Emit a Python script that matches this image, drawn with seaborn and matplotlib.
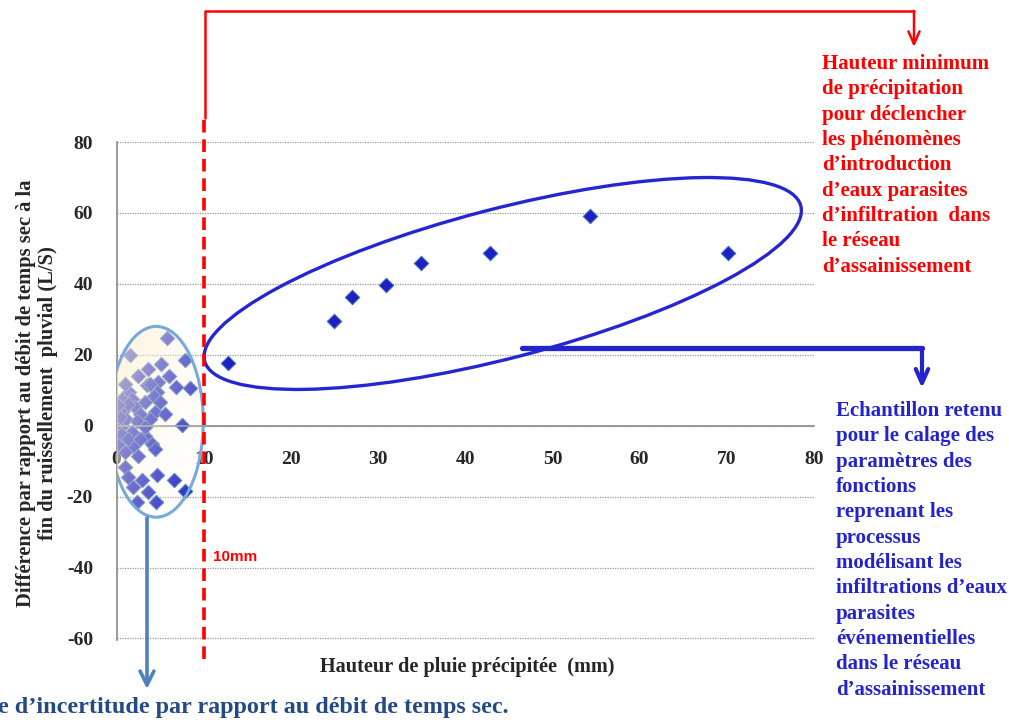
import numpy as np
import matplotlib
matplotlib.use('Agg')
import matplotlib.pyplot as plt
import matplotlib.transforms as mtransforms
from matplotlib.patches import Ellipse, FancyArrowPatch
from matplotlib.lines import Line2D
import seaborn as sns

# points below the 10 mm threshold (uncertainty zone)
zone_x = [5.8, 1.5, 7.9, 5.1, 6.0, 2.5, 8.4, 3.5, 4.8, 1.4, 4.6, 1.8, 3.3, 4.3,
          0.7, 2.1, 4.4, 5.6, 7.5, 0.6, 1.8, 3.3, 0.2, 1.9, 4.1, 4.4, 1.0, 2.5,
          1.0, 4.6, 6.6, 1.3, 2.9, 1.9, 3.6, 7.9, 2.4, 4.5, 0.6, 1.3, 2.7, 1.1,
          2.4, 3.8, 3.3, 0.5, 1.3, 2.7, 5.0, 3.8, 0.4, 3.6, 1.0, 0.2, 6.8]
zone_y = [24.6, 19.8, 18.4, 17.3, 13.9, 13.9, 10.6, 11.4, 12.2, 9.4, 9.4, 7.5,
          6.6, 8.3, 4.1, 5.2, 3.8, 3.2, 0.1, -0.1, -1.8, -3.0, -5.2, -5.8, -5.2,
          -6.6, -7.5, -8.6, -11.7, -13.9, -15.3, -14.5, -15.3, -17.3, -18.7,
          -18.4, -21.5, -21.5, 7.5, 6.1, 3.2, 1.8, 1.3, 1.8, -0.4, -2.4, -3.8,
          -3.8, 6.6, 11.7, 2.4, 15.9, 11.7, 5.8, 10.8]
# retained sample (> 10 mm)
kept_x = [12.8, 24.9, 27.0, 30.9, 34.9, 42.8, 54.3, 70.1]
kept_y = [17.6, 29.4, 36.2, 39.6, 46.0, 48.6, 59.0, 48.6]

x_ticks = [0, 10, 20, 30, 40, 50, 60, 70, 80]
y_ticks = [-60, -40, -20, 0, 20, 40, 60, 80]
threshold = 10

W, H = 1009, 724

sns.set_style('white')
plt.rcParams['font.family'] = ['Liberation Serif', 'DejaVu Serif']
plt.rcParams['font.weight'] = 'bold'
plt.rcParams['axes.labelweight'] = 'bold'
plt.rcParams['axes.unicode_minus'] = False

fig = plt.figure(figsize=(W / 100, H / 100), dpi=100)
ax = fig.add_axes([116.5 / W, 1 - 639.5 / H, 697.5 / W, 497.5 / H])


def fp(px, py):
    # image pixel -> figure fraction
    return px / W, 1 - py / H


pt_color = '#1f1fc4'
sns.scatterplot(x=zone_x, y=zone_y, marker='D', s=55, color=pt_color,
                edgecolor='#3a78b5', linewidth=0.7, ax=ax, zorder=2)
sns.scatterplot(x=kept_x, y=kept_y, marker='D', s=55, color=pt_color,
                edgecolor='#3a78b5', linewidth=0.7, ax=ax, zorder=2)

ax.set_xticks(x_ticks)
ax.set_yticks(y_ticks)
ax.tick_params(axis='both', labelsize=14, direction='out', length=5,
               color='#8a8a8a', width=1)
ax.tick_params(axis='x', pad=13)
ax.tick_params(axis='y', pad=12)
for s in ['top', 'right']:
    ax.spines[s].set_visible(False)
ax.spines['bottom'].set_position(('data', 0))
for s in ['left', 'bottom']:
    ax.spines[s].set_color('#8a8a8a')
    ax.spines[s].set_linewidth(1.2)
ax.yaxis.grid(True, linestyle=(0, (1, 1)), color='#9a9a9a', linewidth=0.9)
ax.xaxis.grid(False)
ax.set_axisbelow(True)

ax.set_xlabel('Hauteur de pluie précipitée  (mm)', fontsize=14.6)
ax.xaxis.set_label_coords((467 - 116.5) / 697.5, (639.5 - 657) / 497.5)
ax.set_ylabel('Différence par rapport au débit de temps sec à la\n'
              'fin du ruissellement  pluvial (L/S)', fontsize=14.8,
              multialignment='center', va='center', linespacing=1.15)
ax.yaxis.set_label_coords((37 - 116.5) / 697.5, 0.495)

# uncertainty zone ellipse with soft cream gradient on top of points
zc, zw, zh = (4.55, 1.1), 10.8, 53.8
zone_ell = Ellipse(zc, zw, zh, fill=False, edgecolor='#79a9da', lw=2.2,
                   zorder=4)
ax.add_patch(zone_ell)
gx = np.linspace(0, 1, 120)[None, :]
gy = np.linspace(0, 1, 240)[:, None]
t = np.clip(0.6 * gx + 0.5 * gy, 0, 1)
rgba = np.zeros((240, 120, 4))
rgba[..., 0] = 1.0
rgba[..., 1] = 0.94 + 0.05 * t
rgba[..., 2] = 0.80 + 0.18 * t
rgba[..., 3] = 0.72 * (1 - t) + 0.05
im = ax.imshow(rgba, extent=(zc[0] - zw / 2, zc[0] + zw / 2,
                             zc[1] - zh / 2, zc[1] + zh / 2),
               origin='upper', aspect='auto', zorder=3,
               interpolation='bilinear')
im.set_clip_path(zone_ell)
ax.set_xlim(0, 80)
ax.set_ylim(-60.3, 80)

# retained sample ellipse (drawn in pixel units around its centre)
kept_ell = Ellipse((0, 0), 2 * 308, 2 * 74.5, angle=14.6, fill=False,
                   edgecolor='#2626d0', lw=2.4, zorder=4,
                   transform=mtransforms.ScaledTranslation(44.3, 40.1,
                                                           ax.transData))
ax.add_patch(kept_ell)

# 10 mm threshold
ax.axvline(threshold, ymin=(-65.8 + 60.3) / 140.3,
           ymax=(86.8 + 60.3) / 140.3,
           color='red', lw=2.6, linestyle=(0, (3.5, 1.9)), clip_on=False,
           zorder=6)
ax.text(11.1, -37, '10mm', color='red', fontsize=11, fontweight='bold',
        family='Liberation Sans', ha='left', va='center')

# red connector to the threshold note
fig.add_artist(Line2D([fp(205, 0)[0], fp(205, 0)[0], fp(914, 0)[0]],
                      [fp(0, 118)[1], fp(0, 11)[1], fp(0, 11)[1]],
                      color='red', lw=1.8, transform=fig.transFigure))
fig.add_artist(FancyArrowPatch(fp(914, 11), fp(914, 47),
                               arrowstyle='->,head_length=0.9,head_width=0.4',
                               mutation_scale=10, color='red', lw=1.8,
                               transform=fig.transFigure, shrinkA=0,
                               shrinkB=0))
fig.text(*fp(822, 54), 'Hauteur minimum\nde précipitation\npour déclencher\n'
         'les phénomènes\nd’introduction\nd’eaux parasites\n'
         'd’infiltration  dans\nle réseau\nd’assainissement',
         color='red', fontsize=15, ha='left', va='top', linespacing=1.355)

# blue connector to the sample note
blue = '#2424cc'
fig.add_artist(Line2D([fp(522, 0)[0], fp(922, 0)[0]],
                      [fp(0, 348)[1], fp(0, 348)[1]],
                      color=blue, lw=3.8, transform=fig.transFigure))
fig.add_artist(FancyArrowPatch(fp(922, 348), fp(922, 388),
                               arrowstyle='->,head_length=1.0,head_width=0.45',
                               mutation_scale=10, color=blue, lw=3,
                               transform=fig.transFigure, shrinkA=0,
                               shrinkB=0))
fig.text(*fp(836, 401), 'Echantillon retenu\npour le calage des\n'
         'paramètres des\nfonctions\nreprenant les\nprocessus\n'
         'modélisant les\ninfiltrations d’eaux\nparasites\n'
         'événementielles\ndans le réseau\nd’assainissement',
         color=blue, fontsize=15, ha='left', va='top', linespacing=1.355)

# light blue arrow to the uncertainty note
fig.add_artist(FancyArrowPatch(fp(147, 518), fp(147, 689),
                               arrowstyle='->,head_length=1.0,head_width=0.5',
                               mutation_scale=10, color='#4f81bd', lw=2.6,
                               transform=fig.transFigure, shrinkA=0,
                               shrinkB=0))
fig.text(*fp(-2, 708), 'e d’incertitude par rapport au débit de temps sec.',
         color='#244a86', fontsize=17.4, ha='left', va='center')

fig.savefig('out.png', dpi=100)
